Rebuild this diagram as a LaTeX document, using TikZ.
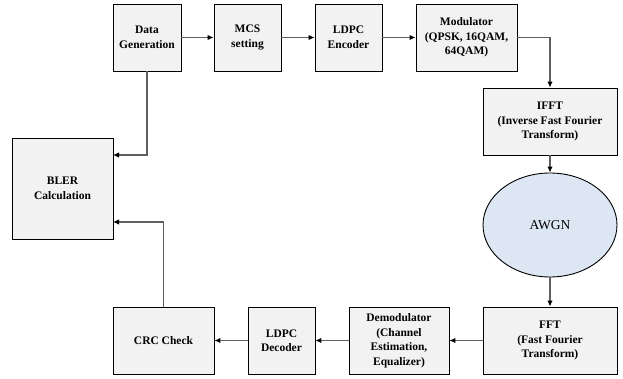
\documentclass[tikz,border=0pt]{standalone}
\usepackage{fontspec}
\setmainfont{Liberation Serif}
\usetikzlibrary{arrows.meta,shapes.geometric}
\definecolor{boxfill}{HTML}{F2F2F2}
\definecolor{ellfill}{HTML}{DDE6F3}
\definecolor{linegray}{HTML}{5F5F5F}
\begin{document}
\begin{tikzpicture}[x=1pt,y=-1pt,
  blk/.style={draw=black, line width=0.9pt, fill=boxfill, align=center,
    font=\fontsize{11.5}{14.5}\selectfont\bfseries, inner sep=2pt},
  conn/.style={draw=linegray, line width=1.1pt,
    -{Latex[length=6pt,width=5.5pt,color=black]}}]
\useasboundingbox (0,0) rectangle (623,379);
\node[blk, minimum width=68pt, minimum height=67pt] (dg) at (147,37.5) {Data\\Generation};
\node[blk, minimum width=67pt, minimum height=67pt] (mcs) at (247.5,37.5) {MCS\\setting};
\node[blk, minimum width=67pt, minimum height=67pt] (enc) at (348.5,37.5) {LDPC\\Encoder};
\node[blk, minimum width=101pt, minimum height=67pt] (mod) at (466.5,37.5) {Modulator\\(QPSK, 16QAM,\\64QAM)};
\node[blk, minimum width=134pt, minimum height=67pt] (ifft) at (550,121.5) {IFFT\\(Inverse Fast Fourier\\Transform)};
\node[draw=black, line width=0.9pt, fill=ellfill, ellipse, minimum width=134pt, minimum height=104pt,
  font=\fontsize{13.5}{16}\selectfont] (awgn) at (550,225) {AWGN};
\node[blk, minimum width=134pt, minimum height=67pt] (fft) at (550,340.5) {FFT\\(Fast Fourier\\Transform)};
\node[blk, minimum width=100pt, minimum height=67pt] (dem) at (399,340.5) {Demodulator\\(Channel\\Estimation,\\Equalizer)};
\node[blk, minimum width=67pt, minimum height=67pt] (dec) at (281.5,340.5) {LDPC\\Decoder};
\node[blk, minimum width=101pt, minimum height=67pt] (crc) at (163.5,340.5) {CRC Check};
\node[blk, minimum width=101pt, minimum height=101pt] (bler) at (62.5,188.5) {BLER\\Calculation};
\coordinate (c1) at (113,155);
\coordinate (c2) at (113,222);
\draw[conn] (dg) -- (mcs);
\draw[conn] (mcs) -- (enc);
\draw[conn] (enc) -- (mod);
\draw[conn] (mod.east) -| (ifft.north);
\draw[conn] (ifft) -- (awgn);
\draw[conn] (awgn) -- (fft);
\draw[conn] (fft) -- (dem);
\draw[conn] (dem) -- (dec);
\draw[conn] (dec) -- (crc);
\draw[conn] (crc.north) |- (c2);
\draw[conn] (dg.south) |- (c1);
\end{tikzpicture}
\end{document}
